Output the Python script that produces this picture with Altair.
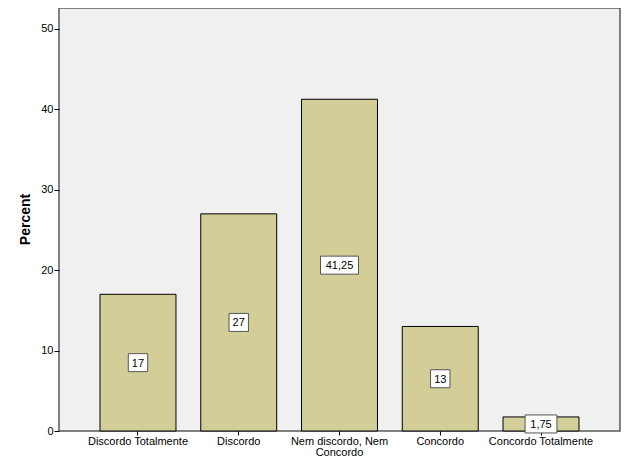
import altair as alt
import pandas as pd

categories = ["Discordo Totalmente", "Discordo", "Nem discordo, Nem Concordo", "Concordo", "Concordo Totalmente"]
percents = [17, 27, 41.25, 13, 1.75]
labels = ["17", "27", "41,25", "13", "1,75"]
y_ticks = [0, 10, 20, 30, 40, 50]

df = pd.DataFrame({"cat": categories, "pct": percents, "lab": labels})
df["mid"] = df["pct"] / 2

# label box shapes (custom symbol paths sized from label length)
box_size = 1600  # side 40px -> 1 unit = 20px
paths = []
for lab in labels:
    w_px = 7 + 6.2 * len(lab)
    hw = (w_px / 2) / 20
    hh = 9 / 20
    paths.append(f"M{-hw:.3f},{-hh:.3f}H{hw:.3f}V{hh:.3f}H{-hw:.3f}Z")

FONT = "Liberation Sans"

x_enc = alt.X(
    "cat:N",
    sort=categories,
    title=None,
    scale=alt.Scale(paddingInner=0.246, paddingOuter=0.407),
    axis=alt.Axis(
        labelAngle=0,
        labelExpr="datum.value == 'Nem discordo, Nem Concordo' ? ['Nem discordo, Nem', 'Concordo'] : datum.value",
        labelFont=FONT,
        labelFontSize=11,
        labelColor="#000000",
        labelPadding=0,
        labelLineHeight=11,
        tickSize=4,
        tickColor="#000000",
        domain=False,
        labelLimit=200,
    ),
)
y_scale = alt.Scale(domain=[0, 52.6], nice=False)

bars = alt.Chart(df).mark_bar(
    fill="#D3CE97", stroke="#000000", strokeWidth=1
).encode(
    x=x_enc,
    y=alt.Y(
        "pct:Q",
        scale=y_scale,
        title="Percent",
        axis=alt.Axis(
            values=y_ticks,
            grid=False,
            domain=False,
            tickSize=5,
            tickColor="#000000",
            labelFont=FONT,
            labelFontSize=11,
            labelColor="#000000",
            labelPadding=1,
            titleFont=FONT,
            titleFontSize=14,
            titleFontWeight="bold",
            titleColor="#000000",
            titleX=-34,
            titleY=211,
            titleAngle=270,
            titleBaseline="middle",
        ),
    ),
)

boxes = alt.Chart(df).mark_point(
    filled=True, fill="#FFFFFF", stroke="#555555", strokeWidth=1, opacity=1, size=box_size
).encode(
    x=alt.X("cat:N", sort=categories),
    y=alt.Y("mid:Q", scale=y_scale),
    shape=alt.Shape("cat:N", scale=alt.Scale(domain=categories, range=paths), legend=None),
)

texts = alt.Chart(df).mark_text(
    font=FONT, fontSize=11, color="#000000", baseline="middle", align="center", dy=1
).encode(
    x=alt.X("cat:N", sort=categories),
    y=alt.Y("mid:Q", scale=y_scale),
    text="lab:N",
)

chart = alt.layer(bars, boxes, texts).properties(
    width=561,
    height=423,
    autosize=alt.AutoSizeParams(type="none"),
    padding={"left": 51, "top": 0, "right": 1, "bottom": 26},
    background="#FFFFFF",
).configure_view(
    fill="#F0F0F0", stroke="#5A5A5A", strokeWidth=1.5
)

chart.save("out.html", embed_options={"renderer": "svg", "actions": False})
